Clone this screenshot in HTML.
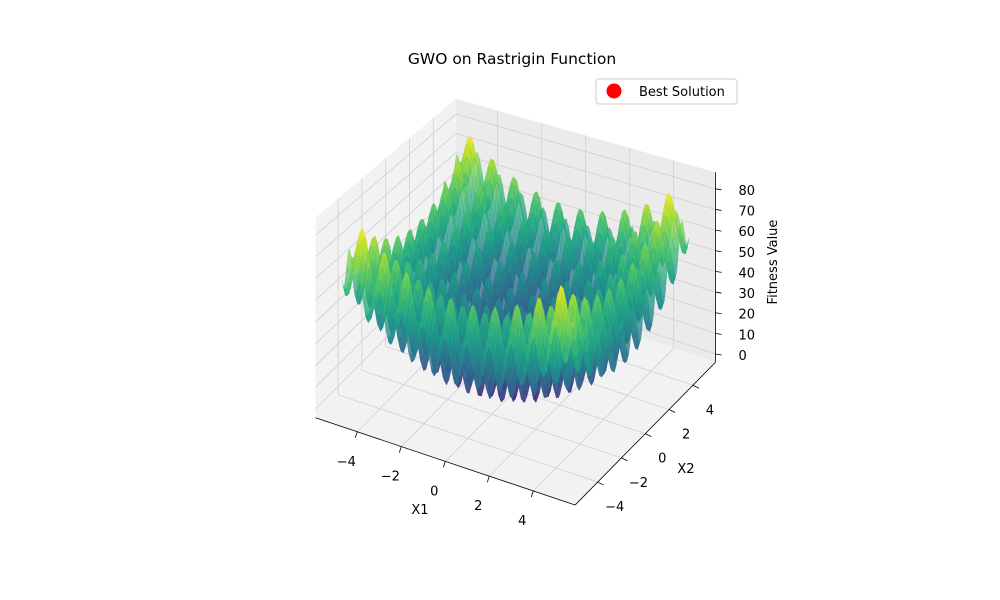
<!DOCTYPE html>
<html><head><meta charset="utf-8"><style>
body{margin:0;background:#fff;}
svg{display:block;font-family:"DejaVu Sans","Liberation Sans",sans-serif;}
</style></head><body>
<svg id="chart" width="1000" height="600" viewBox="0 0 1000 600">
<rect width="1000" height="600" fill="#fff"/>
<g id="panes"></g>
<g id="grid"></g>
<g id="surf"></g>
<g id="axes"></g>
<text x="512" y="64" font-size="15.5" text-anchor="middle">GWO on Rastrigin Function</text>
<g>
<rect x="596" y="79" width="141" height="25" rx="3" fill="#fff" fill-opacity="0.8" stroke="#ccc"/>
<circle cx="614" cy="91" r="7.5" fill="#ff0000"/>
<text x="639" y="96" font-size="13">Best Solution</text>
</g>
<text x="420" y="514" font-size="13" text-anchor="middle">X1</text>
<text x="686" y="473" font-size="13" text-anchor="middle">X2</text>
<text x="777" y="262" font-size="13" text-anchor="middle" transform="rotate(-90 777 262)">Fitness Value</text>
</svg>
<script>
const xTicks=[-4,-2,0,2,4];
const yTicks=[-4,-2,0,2,4];
const zTicks=[0,10,20,30,40,50,60,70,80];
const gridMin=-5.12, gridMax=5.12, gridN=100;
const NS="http://www.w3.org/2000/svg";
const XL=-5.9,XH=5.9,YL=-5.9,YH=5.9,ZL=-4,ZH=88;
function P(x,y,z){const d=0.5*x-0.866*y;const s=2.12*(1+0.012*d);
 return [515.5+22*x+11.9*y, 390+7.4*x-12.1*y-s*(z-ZL)];}
function mk(tag,attrs,parent){const e=document.createElementNS(NS,tag);for(const k in attrs)e.setAttribute(k,attrs[k]);parent.appendChild(e);return e;}
function poly(pts){return pts.map(p=>p[0].toFixed(1)+","+p[1].toFixed(1)).join(" ");}
const panes=document.getElementById('panes'),grid=document.getElementById('grid'),axes=document.getElementById('axes'),surf=document.getElementById('surf');
let e;
e=mk('polygon',{points:poly([P(XL,YL,ZL),P(XH,YL,ZL),P(XH,YH,ZL),P(XL,YH,ZL)]),fill:'#f2f2f2'},panes);

e=mk('polygon',{points:poly([P(XL,YL,ZL),P(XL,YH,ZL),P(XL,YH,ZH),P(XL,YL,ZH)]),fill:'#f2f2f2'},panes);

e=mk('polygon',{points:poly([P(XL,YH,ZL),P(XH,YH,ZL),P(XH,YH,ZH),P(XL,YH,ZH)]),fill:'#ebebeb'},panes);

function gl(a,b){const l=mk('line',{x1:a[0],y1:a[1],x2:b[0],y2:b[1],stroke:'#cfcfcf','stroke-width':0.8},grid);
}
xTicks.forEach(t=>{gl(P(t,YL,ZL),P(t,YH,ZL));gl(P(t,YH,ZL),P(t,YH,ZH));});
yTicks.forEach(t=>{gl(P(XL,t,ZL),P(XH,t,ZL));gl(P(XL,t,ZL),P(XL,t,ZH));});
zTicks.forEach(t=>{gl(P(XL,YL,t),P(XL,YH,t));gl(P(XL,YH,t),P(XH,YH,t));});
function al(a,b){const l=mk('line',{x1:a[0],y1:a[1],x2:b[0],y2:b[1],stroke:'#000','stroke-width':0.8},axes);
}
al(P(XL,YL,ZL),P(XH,YL,ZL));al(P(XH,YL,ZL),P(XH,YH,ZL));al(P(XH,YH,ZL),P(XH,YH,ZH));
function lab(txt,p,anchor,name){const t=mk('text',{x:p[0],y:p[1],'font-size':13,'text-anchor':anchor},axes);t.textContent=txt;
}
const fmt=v=>v<0?'\u2212'+(-v):String(v);
xTicks.forEach(t=>{const a=P(t,YL,ZL);al(a,[a[0]-2,a[1]+6]);lab(fmt(t),[a[0]-11,a[1]+34],'middle','x-tick-label');});
yTicks.forEach(t=>{const a=P(XH,t,ZL);al(a,[a[0]+6,a[1]+3]);lab(fmt(t),[a[0]+17,a[1]+29],'middle','y-tick-label');});
zTicks.forEach(t=>{const a=P(XH,YH,t);al(a,[a[0]+6,a[1]+1]);lab(fmt(t),[a[0]+23,a[1]+6],'start','z-tick-label');});
function ras(x,y){return 20+x*x-10*Math.cos(2*Math.PI*x)+y*y-10*Math.cos(2*Math.PI*y);}
const V=[[68,1,84],[72,40,120],[62,74,137],[49,104,142],[38,130,142],[31,158,137],[53,183,121],[109,205,89],[180,222,44],[253,231,37]];
function vir(t){t=Math.max(0,Math.min(1,t))*(V.length-1);const i=Math.min(V.length-2,Math.floor(t)),f=t-i;
return 'rgb('+V[i].map((c,k)=>Math.round(c+(V[i+1][k]-c)*f)).join(',')+')';}
const xs=[];for(let i=0;i<gridN;i++)xs.push(gridMin+(gridMax-gridMin)*i/(gridN-1));
const Z=xs.map(x=>xs.map(y=>ras(x,y)));
let zmax=0;Z.forEach(r=>r.forEach(v=>{if(v>zmax)zmax=v;}));
const quads=[];
for(let i=0;i<gridN-1;i++)for(let j=0;j<gridN-1;j++){
 const cx=(xs[i]+xs[i+1])/2,cy=(xs[j]+xs[j+1])/2;
 const zz=(Z[i][j]+Z[i+1][j]+Z[i+1][j+1]+Z[i][j+1])/4;
 quads.push({i,j,d:0.5*cx-0.866*cy,z:zz});
}
quads.sort((a,b)=>a.d-b.d);
const frag=document.createDocumentFragment();
quads.forEach(q=>{const i=q.i,j=q.j;
 const pts=[P(xs[i],xs[j],Z[i][j]),P(xs[i+1],xs[j],Z[i+1][j]),P(xs[i+1],xs[j+1],Z[i+1][j+1]),P(xs[i],xs[j+1],Z[i][j+1])];
 const c=vir(q.z/zmax);
 const p=document.createElementNS(NS,'polygon');
 p.setAttribute('points',poly(pts));p.setAttribute('fill',c);p.setAttribute('fill-opacity','0.75');
 p.setAttribute('stroke',c);p.setAttribute('stroke-width','0.3');p.setAttribute('stroke-opacity','0.5');
 
 
 frag.appendChild(p);});
surf.appendChild(frag);
</script>
</body></html>
